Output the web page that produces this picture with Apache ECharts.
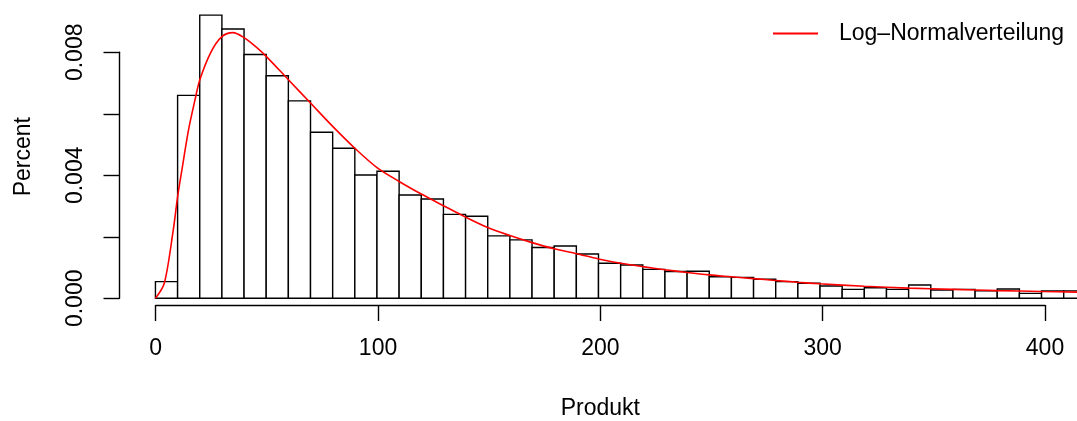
<!DOCTYPE html>
<html>
<head>
<meta charset="utf-8">
<script src="https://cdn.jsdelivr.net/npm/echarts@6/dist/echarts.min.js"></script>
<style>
  html, body { margin: 0; padding: 0; background: #fff; }
  #main { width: 1077px; height: 421px; }
</style>
</head>
<body>
<div id="main"></div>
<script>
// Histogramm: Klassen zu je 10 Einheiten, Dichte je Klasse
var binStart = 0;
var binWidth = 10;
var density = [0.00054, 0.0066, 0.00921, 0.00876, 0.00793, 0.00724, 0.00642, 0.0054, 0.00488, 0.00401,
	0.00413, 0.00336, 0.00323, 0.00273, 0.00267, 0.00203, 0.0019, 0.00165, 0.0017, 0.00144,
	0.00114, 0.00108, 0.00094, 0.00087, 0.00088, 0.0007, 0.00068, 0.00062, 0.00054, 0.00049,
	0.0004, 0.00029, 0.00034, 0.00029, 0.00043, 0.00027, 0.00029, 0.00024, 0.0003, 0.00016,
	0.00024, 0.00024];

// angepasste Log-Normalverteilung
var curveX = [0, 4, 8, 10, 12, 15, 18, 20, 25, 30, 35, 40, 45, 50, 60, 70, 80, 90, 100, 110,
	120, 130, 140, 150, 160, 170, 180, 190, 200, 210, 220, 230, 240, 250, 260, 270, 280, 290,
	300, 320, 340, 360, 380, 400, 416];
var curveY = [0, 0.00049, 0.0022, 0.0033, 0.0042, 0.0055, 0.0065, 0.0071, 0.008, 0.00851, 0.00864,
	0.00848, 0.0082, 0.00787, 0.00711, 0.00635, 0.00559, 0.00488, 0.00425, 0.0038,
	0.00339, 0.00301, 0.00264, 0.0023, 0.00204, 0.00181, 0.00161, 0.00145, 0.00128, 0.00114,
	0.00103, 0.00093, 0.00084, 0.00076, 0.0007, 0.00064, 0.00058, 0.00052,
	0.00047, 0.00039, 0.00033, 0.00029, 0.00025, 0.00022, 0.0002];

var xTicks = [0, 400, 100];        // min, max, interval
var yTicks = [0, 0.008, 0.002];
var yLabelShown = [0, 0.004, 0.008];

var fontFam = 'Liberation Sans, Arial, Helvetica, sans-serif';

var bars = density.map(function (d, i) {
	return [binStart + i * binWidth, binStart + (i + 1) * binWidth, d];
});
var curve = curveX.map(function (x, i) { return [x, curveY[i]]; });

// Bereich wie in R: 4% Rand um xlim bzw. ylim
var yTop = Math.max.apply(null, density);
var xPad = (xTicks[1] - xTicks[0]) * 0.04;
var yPad = yTop * 0.04;

var myChart = echarts.init(document.getElementById('main'));

myChart.setOption({
	animation: false,
	backgroundColor: '#fff',
	textStyle: { fontFamily: fontFam },
	legend: {
		left: 773,
		top: 22,
		padding: 0,
		icon: 'rect',
		itemWidth: 45,
		itemHeight: 2,
		textStyle: { fontSize: 23, color: '#000', fontFamily: fontFam, padding: [0, 0, 0, 16] },
		data: ['Log–Normalverteilung']
	},
	grid: [
		{ left: 120, top: 3.8, width: 960.4, height: 305.8 },
		{ left: 155.7, width: 889.3, top: 200, bottom: 111.4 },
		{ left: 119.5, top: 52.3, height: 246, width: 100 }
	],
	xAxis: [
		{ type: 'value', gridIndex: 0, min: xTicks[0] - xPad, max: xTicks[1] + xPad, show: false },
		{
			type: 'value', gridIndex: 1, min: xTicks[0], max: xTicks[1], interval: xTicks[2],
			axisLine: { lineStyle: { color: '#000', width: 1.4 } },
			axisTick: { length: 16, lineStyle: { color: '#000', width: 1.4 } },
			axisLabel: { fontSize: 23, color: '#000', margin: 32, fontFamily: fontFam },
			splitLine: { show: false },
			name: 'Produkt',
			nameLocation: 'middle',
			nameGap: 92,
			nameTextStyle: { fontSize: 23, color: '#000', fontFamily: fontFam }
		},
		{ type: 'value', gridIndex: 2, show: false }
	],
	yAxis: [
		{
			type: 'value', gridIndex: 0, min: -yPad, max: yTop + yPad,
			axisLine: { show: false }, axisTick: { show: false }, axisLabel: { show: false },
			splitLine: { show: false },
			name: 'Percent',
			nameLocation: 'middle',
			nameRotate: 90,
			nameGap: 85,
			nameTextStyle: { fontSize: 23, color: '#000', fontFamily: fontFam }
		},
		{ type: 'value', gridIndex: 1, show: false },
		{
			type: 'value', gridIndex: 2, min: yTicks[0], max: yTicks[1], interval: yTicks[2],
			axisLine: { show: true, lineStyle: { color: '#000', width: 1.4 } },
			axisTick: { show: true, length: 16, lineStyle: { color: '#000', width: 1.4 } },
			axisLabel: {
				rotate: 90, fontSize: 23, color: '#000', margin: 32, fontFamily: fontFam,
				formatter: function (v) {
					for (var i = 0; i < yLabelShown.length; i++) {
						if (Math.abs(v - yLabelShown[i]) < 1e-9) return v.toFixed(3);
					}
					return '';
				}
			},
			splitLine: { show: false }
		}
	],
	series: [
		{
			name: 'Histogramm',
			type: 'custom',
			xAxisIndex: 0,
			yAxisIndex: 0,
			clip: true,
			data: bars,
			encode: { x: [0, 1], y: 2 },
			renderItem: function (params, api) {
				var p0 = api.coord([api.value(0), api.value(2)]);
				var p1 = api.coord([api.value(1), 0]);
				return {
					type: 'rect',
					shape: { x: p0[0], y: p0[1], width: p1[0] - p0[0], height: p1[1] - p0[1] },
					style: { fill: '#fff', stroke: '#000', lineWidth: 1.4 }
				};
			}
		},
		{
			name: 'Log–Normalverteilung',
			type: 'line',
			xAxisIndex: 0,
			yAxisIndex: 0,
			data: curve,
			smooth: 0.3,
			showSymbol: false,
			symbol: 'none',
			lineStyle: { color: '#ff0000', width: 1.6 },
			itemStyle: { color: '#ff0000' },
			z: 5
		}
	]
});
</script>
</body>
</html>
